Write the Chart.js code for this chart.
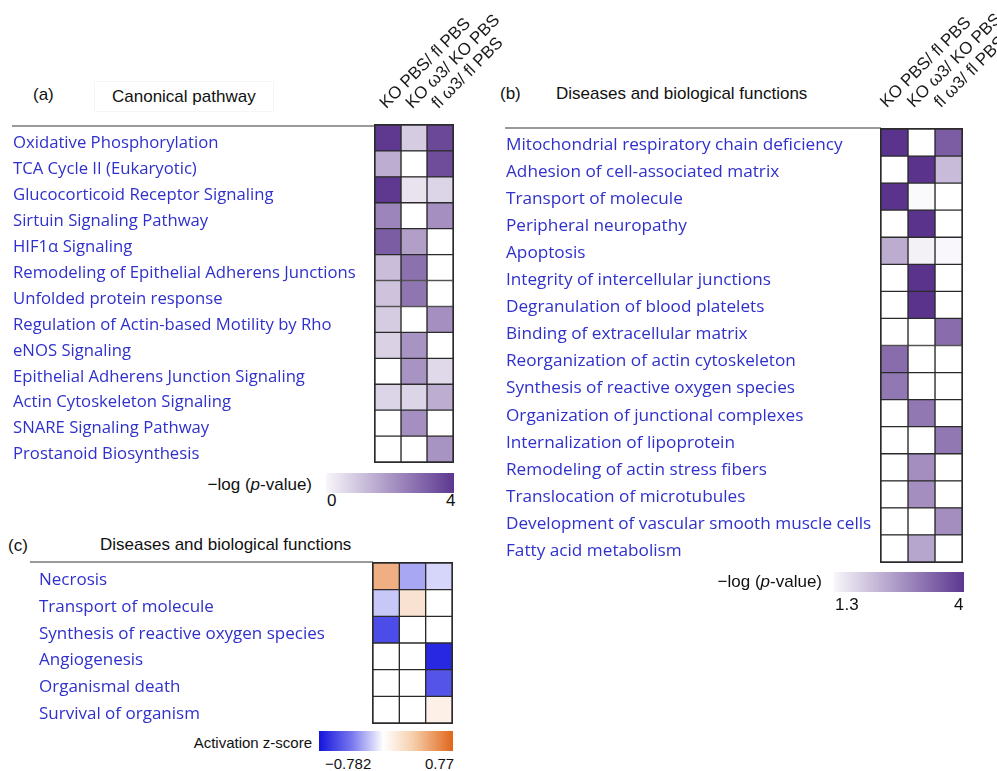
<!DOCTYPE html>
<html><head><meta charset="utf-8">
<script src="https://cdn.jsdelivr.net/npm/chart.js@4.4.1/dist/chart.umd.min.js"></script>
<style>
html,body{margin:0;padding:0;background:#fff}
body{width:997px;height:771px;position:relative;overflow:hidden;font-family:"Liberation Sans",Arial,sans-serif;color:#111}
canvas{position:absolute}
.t{position:absolute;white-space:nowrap;line-height:1}
.ln{position:absolute;background:#9a9a9a;height:2px}
.bar{position:absolute}
</style></head><body>

<div class="t" style="left:33px;top:86px;font-size:17px">(a)</div>
<div style="position:absolute;left:94px;top:81px;width:178px;height:29px;border:1px solid #f5f5f5"></div>
<div class="t" style="left:112px;top:88px;font-size:17px">Canonical pathway</div>
<div class="t" style="left:500px;top:85px;font-size:17px">(b)</div>
<div class="t" style="left:556px;top:85px;font-size:17px">Diseases and biological functions</div>
<div class="t" style="left:8px;top:537px;font-size:17px">(c)</div>
<div class="t" style="left:100px;top:536px;font-size:17px">Diseases and biological functions</div>

<div class="ln" style="left:12px;top:125px;width:363px"></div>
<div class="ln" style="left:505px;top:127px;width:376px"></div>
<div class="ln" style="left:30px;top:561px;width:343px"></div>

<canvas id="ca" width="520" height="470" style="left:0;top:0"></canvas>
<canvas id="cb" width="507" height="575" style="left:490px;top:0"></canvas>
<canvas id="cc" width="480" height="200" style="left:0;top:530px"></canvas>

<!-- colour bars -->
<div class="t" style="right:685px;top:476px;font-size:17px">−log (<i>p</i>-value)</div>
<div class="bar" style="left:326px;top:473px;width:128px;height:20px;background:linear-gradient(to right,#f8f6fa,#5c3790)"></div>
<div class="t" style="left:327px;top:492px;font-size:17px">0</div>
<div class="t" style="left:446px;top:492px;font-size:17px">4</div>

<div class="t" style="right:175px;top:573px;font-size:17px">−log (<i>p</i>-value)</div>
<div class="bar" style="left:834px;top:572px;width:130px;height:20px;background:linear-gradient(to right,#f8f6fa,#5c3790)"></div>
<div class="t" style="left:835px;top:596px;font-size:17px">1.3</div>
<div class="t" style="left:954px;top:596px;font-size:17px">4</div>

<div class="t" style="right:685px;top:735px;font-size:15px">Activation z-score</div>
<div class="bar" style="left:319px;top:731px;width:134px;height:20px;background:linear-gradient(to right,#1414dc,#7a7aee 25%,#ffffff 48%,#f6cfac 70%,#e0661a)"></div>
<div class="t" style="left:325px;top:756px;font-size:15px">−0.782</div>
<div class="t" style="left:425px;top:756px;font-size:15px">0.77</div>

<script>
// ---------- data ----------
const columns = ['KO PBS/ fl PBS', 'KO ω3/ KO PBS', 'fl ω3/ fl PBS'];

const rowsA = ['Oxidative Phosphorylation','TCA Cycle II (Eukaryotic)','Glucocorticoid Receptor Signaling','Sirtuin Signaling Pathway','HIF1α Signaling','Remodeling of Epithelial Adherens Junctions','Unfolded protein response','Regulation of Actin-based Motility by Rho','eNOS Signaling','Epithelial Adherens Junction Signaling','Actin Cytoskeleton Signaling','SNARE Signaling Pathway','Prostanoid Biosynthesis'];
const koPbsA = [3.9, 1.6, 3.9, 2.4, 3.2, 1.3, 1.2, 1.0, 0.9, 0, 0.85, 0, 0];
const koW3A  = [1.0, 0, 0.55, 0, 1.9, 2.8, 2.7, 0, 2.1, 2.1, 0.85, 2.2, 0];
const flW3A  = [3.6, 3.5, 0.85, 2.2, 0, 0, 0, 2.2, 0, 0.75, 1.6, 0, 2.1];

const rowsB = ['Mitochondrial respiratory chain deficiency','Adhesion of cell-associated matrix','Transport of molecule','Peripheral neuropathy','Apoptosis','Integrity of intercellular junctions','Degranulation of blood platelets','Binding of extracellular matrix','Reorganization of actin cytoskeleton','Synthesis of reactive oxygen species','Organization of junctional complexes','Internalization of lipoprotein','Remodeling of actin stress fibers','Translocation of microtubules','Development of vascular smooth muscle cells','Fatty acid metabolism'];
const koPbsB = [4.0, 0, 4.0, 0, 2.4, 0, 0, 0, 3.25, 3.1, 0, 0, 0, 0, 0, 0];
const koW3B  = [0, 4.0, 1.38, 4.0, 1.5, 4.0, 4.0, 0, 0, 0, 3.1, 0, 2.8, 2.8, 0, 2.5];
const flW3B  = [3.45, 2.2, 0, 0, 1.4, 0, 0, 3.25, 0, 0, 0, 3.1, 0, 0, 2.8, 0];

const rowsC = ['Necrosis','Transport of molecule','Synthesis of reactive oxygen species','Angiogenesis','Organismal death','Survival of organism'];
const koPbsC = [0.42, -0.19, -0.61, 0, 0, 0];
const koW3C  = [-0.30, 0.15, 0, 0, 0, 0];
const flW3C  = [-0.14, 0, 0, -0.73, -0.58, 0.08];

// ---------- colour scales ----------
function mix(a, b, t) {
  t = Math.max(0, Math.min(1, t));
  return 'rgb(' + a.map((v, i) => Math.round(v + (b[i] - v) * t)).join(',') + ')';
}
const WHITE = [255, 255, 255], PURPLE = [90, 52, 140], BLUE = [25, 25, 225], ORANGE = [226, 108, 26];
const purpleScale = (lo, hi) => v => v < lo ? 'rgb(255,255,255)' : mix(WHITE, PURPLE, (v - lo) / (hi - lo));
const zScale = v => v < 0 ? mix(WHITE, BLUE, v / -0.782) : mix(WHITE, ORANGE, v / 0.77);

const outline = {
  id: 'outline',
  afterDatasetsDraw(chart) {
    const a = chart.chartArea, ctx = chart.ctx;
    ctx.save();
    ctx.strokeStyle = '#2b2b2b';
    ctx.lineWidth = 1;
    ctx.strokeRect(a.left - 0.5, a.top - 0.5, a.right - a.left + 1, a.bottom - a.top + 1);
    ctx.restore();
  }
};

function heat(id, rows, series, colorFn, g, header) {
  const scales = {
    x: { type: 'linear', min: 0, max: columns.length, display: false },
    y: {
      type: 'category', labels: rows, offset: true,
      grid: { display: false }, border: { display: false },
      ticks: { crossAlign: 'far', autoSkip: false, padding: 0, color: '#3030cc',
               font: { family: 'Open Sans', size: g.fs, lineHeight: g.sh * 2 + 'px' },
               callback: (v, i) => ['', rows[i]] },
      afterFit(s) { s.width = g.yw; s.paddingTop = 0; s.paddingBottom = 0; }
    }
  };
  if (header) {
    scales.x2 = {
      type: 'category', labels: columns, position: 'top', offset: true,
      grid: { display: false }, border: { display: false },
      ticks: { minRotation: 45, maxRotation: 45, autoSkip: false, padding: g.hp, labelOffset: g.lo,
               color: '#1a1a1a', font: { family: 'Liberation Sans', size: 17, lineHeight: '0px' } },
      afterFit(s) { s.height = g.top; s.paddingLeft = 0; s.paddingRight = 0; s.paddingTop = 0; s.paddingBottom = 0; }
    };
  }
  return new Chart(document.getElementById(id), {
    type: 'bar',
    data: {
      labels: rows,
      datasets: series.map((vals, j) => ({
        data: rows.map(() => [j, j + 1]),
        backgroundColor: vals.map(colorFn),
        borderColor: '#2b2b2b', borderWidth: 1, borderSkipped: false,
        barPercentage: 1, categoryPercentage: 1, grouped: false
      }))
    },
    options: {
      indexAxis: 'y', responsive: false, animation: false, events: [],
      layout: { padding: { left: g.pl, right: g.pr, top: g.pt, bottom: g.pb } },
      plugins: { legend: { display: false }, tooltip: { enabled: false } },
      scales
    },
    plugins: [outline]
  });
}

heat('ca', rowsA, [koPbsA, koW3A, flW3A], purpleScale(0, 4),
     { pl: 13, yw: 362, pr: 67, pt: 0, top: 125, pb: 8, hp: 11, lo: -5, fs: 16.7, sh: 5.5 }, true);
heat('cb', rowsB, [koPbsB, koW3B, flW3B], purpleScale(1.3, 4),
     { pl: 16, yw: 375, pr: 35, pt: 0, top: 129, pb: 13, hp: 16, lo: -11, fs: 17.2, sh: 2.5 }, true);
heat('cc', rowsC, [koPbsC, koW3C, flW3C], zScale,
     { pl: 39, yw: 334, pr: 28, pt: 33, pb: 7, fs: 17, sh: 4 }, false);
</script>
</body></html>
